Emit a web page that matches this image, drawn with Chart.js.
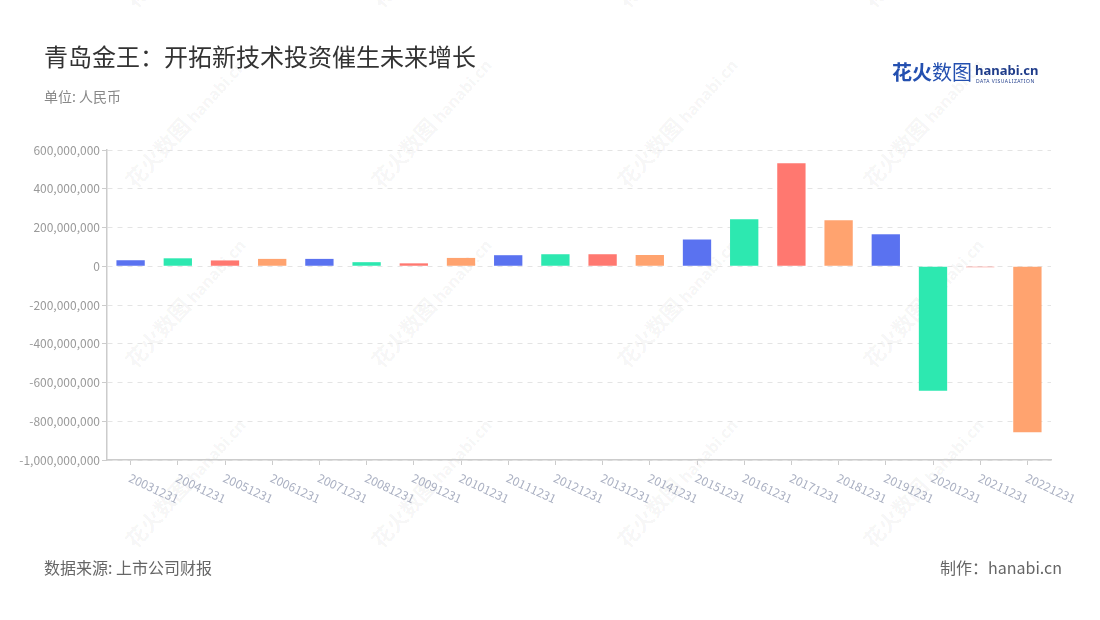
<!DOCTYPE html>
<html>
<head>
<meta charset="utf-8">
<script src="https://cdn.jsdelivr.net/npm/chart.js@4"></script>
<style>
  body { margin: 0; background: #fff; font-family: "Noto Sans CJK SC", "Noto Sans", sans-serif; }
  #page { position: relative; width: 1100px; height: 620px; overflow: hidden; }
  #chart { position: absolute; left: 0; top: 0; }
  .txt { position: absolute; white-space: nowrap; }
  .wm { position: absolute; white-space: nowrap; color: rgba(0,0,0,0.05); transform-origin: 0 50%; transform: rotate(-48deg); line-height: 24px; }
  .wm b { font-size: 21px; font-weight: 700; }
  .wm span { font-size: 16px; font-weight: 700; font-family: "Noto Sans", sans-serif; margin-left: 4px; }
</style>
</head>
<body>
<div id="page">
  <div id="wm"></div>
  <canvas id="chart" width="1100" height="620"></canvas>
  <div class="txt" style="left:44px;top:42px;font-size:24px;line-height:28px;color:#333;">青岛金王：开拓新技术投资催生未来增长</div>
  <div class="txt" style="left:44px;top:87px;font-size:14px;line-height:18px;color:#888;">单位: 人民币</div>
  <div class="txt" style="left:44px;top:556px;font-size:16px;line-height:22px;color:#666;">数据来源: 上市公司财报</div>
  <div class="txt" style="right:38px;top:556px;font-size:16px;line-height:22px;color:#666;">制作：hanabi.cn</div>
  <div class="txt" style="left:892px;top:60px;font-size:20px;line-height:24px;color:#2450b0;"><b>花火</b>数图</div>
  <div class="txt" style="left:975px;top:61px;font-size:13px;line-height:18px;color:#1f3c8a;font-weight:700;font-family:'Noto Sans',sans-serif;">hanabi.cn</div>
  <div class="txt" style="left:976px;top:78px;font-size:5px;line-height:6px;color:#1f3c8a;letter-spacing:0.5px;font-family:'Noto Sans',sans-serif;">DATA VISUALIZATION</div>
</div>
<script>
// 数据
var years = ["20031231", "20041231", "20051231", "20061231", "20071231", "20081231", "20091231",
  "20101231", "20111231", "20121231", "20131231", "20141231", "20151231", "20161231", "20171231",
  "20181231", "20191231", "20201231", "20211231", "20221231"];
var values = [31e6, 41e6, 30e6, 38e6, 38e6, 21e6, 15e6, 43e6, 57e6, 62e6, 62e6, 58e6,
  138e6, 242e6, 532e6, 237e6, 165e6, -643e6, -5e6, -857e6];
var yTicks = [-1e9, -8e8, -6e8, -4e8, -2e8, 0, 2e8, 4e8, 6e8];

var palette = ["#5a72f0", "#2de8b0", "#ff7870", "#ffa36f"];
var barColors = years.map(function (y, i) { return palette[i % 4]; });

// 水印
var wm = document.getElementById('wm');
[3, 183, 363, 543].forEach(function (top) {
  [130, 376, 622, 868].forEach(function (left) {
    var d = document.createElement('div');
    d.className = 'wm';
    d.style.left = left + 'px';
    d.style.top = (top - 12) + 'px';
    d.innerHTML = '<b>花火数图</b><span>hanabi.cn</span>';
    wm.appendChild(d);
  });
});

// x轴标签 顺时针旋转
var xLabels = {
  id: 'xLabels',
  afterDraw: function (chart) {
    var ctx = chart.ctx;
    var x = chart.scales.x;
    ctx.save();
    ctx.font = '12px "Noto Sans CJK SC"';
    ctx.fillStyle = '#aab0c2';
    ctx.textAlign = 'left';
    ctx.textBaseline = 'middle';
    for (var i = 0; i < years.length; i++) {
      ctx.save();
      ctx.translate(x.getPixelForTick(i) - 1, x.top + 17);
      ctx.rotate(25 * Math.PI / 180);
      ctx.fillText(years[i], 0, 0);
      ctx.restore();
    }
    ctx.restore();
  }
};

window.onload = function () {
  var ctx = document.getElementById('chart').getContext('2d');
  new Chart(ctx, {
    type: 'bar',
    data: {
      labels: years,
      datasets: [{
        data: values,
        backgroundColor: barColors,
        borderWidth: 0,
        categoryPercentage: 1,
        barPercentage: 0.6
      }]
    },
    options: {
      responsive: false,
      animation: false,
      layout: { padding: { top: 150, right: 49, bottom: 0, left: 0 } },
      plugins: { legend: { display: false }, tooltip: { enabled: false } },
      scales: {
        x: {
          afterFit: function (s) { s.height = 160; },
          grid: { drawOnChartArea: false, offset: false, color: '#cccccc', tickLength: 5 },
          border: { color: '#cccccc', width: 1.5 },
          ticks: { display: false }
        },
        y: {
          min: -1e9,
          max: 6e8,
          afterFit: function (s) { s.width = 107; },
          afterBuildTicks: function (s) { s.ticks = yTicks.map(function (v) { return { value: v }; }); },
          grid: { color: '#e4e4e4', tickColor: '#cccccc', tickLength: 5 },
          border: { color: '#cccccc', width: 1.5, dash: [5, 5] },
          ticks: {
            padding: 2,
            color: '#999',
            font: { size: 12, family: '"Noto Sans CJK SC"' },
            callback: function (v) { return Number(v).toLocaleString('en-US'); }
          }
        }
      }
    },
    plugins: [xLabels]
  });
};
</script>
</body>
</html>
